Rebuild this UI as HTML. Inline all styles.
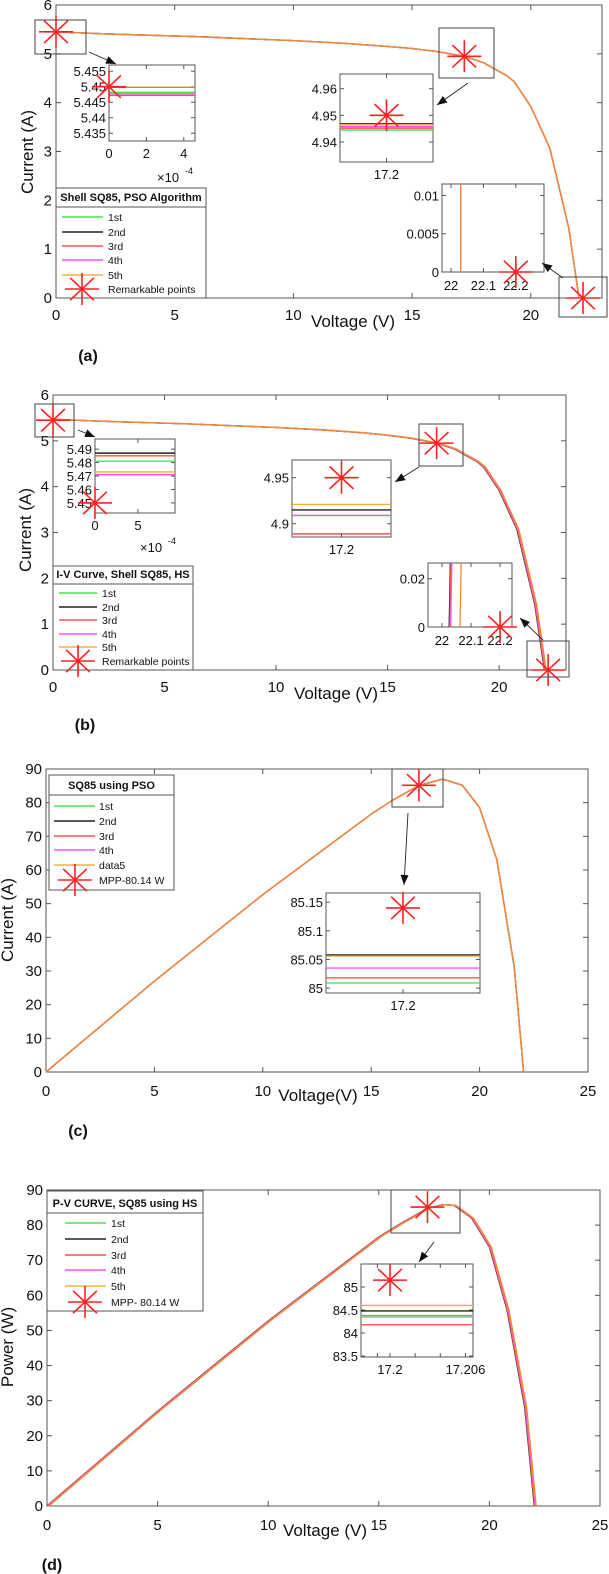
<!DOCTYPE html>
<html><head><meta charset="utf-8">
<style>
html,body{margin:0;padding:0;background:#fff;}
svg{display:block;font-family:"Liberation Sans",Arial,sans-serif;}
</style></head>
<body>
<svg id="fig" width="609" height="1574" viewBox="0 0 609 1574" xmlns="http://www.w3.org/2000/svg"></svg>
<script>
// ---------- data ----------
const seriesNames = ['1st','2nd','3rd','4th','5th'];
const seriesColors = ['#4fe24f','#222222','#ff5050','#ff50ff','#f0b040'];

// (a) I-V, PSO
const aV = [0,2,4,6,8,10,12,14,15,16,17.2,18,19,19.3,20,20.8,21.6,22.03];
const aI = [5.45,5.41,5.38,5.35,5.31,5.27,5.22,5.15,5.11,5.05,4.95,4.82,4.55,4.43,3.92,3.07,1.43,0];
const aStarV = [0,17.2,22.2];
const aStarI = [5.45,4.95,0];
const aIn1Vals = [5.4482,5.4498,5.4472,5.4477,5.4499];
const aIn2Vals = [4.9445,4.9468,4.9452,4.9458,4.9465];
const aIn3Vals = [22.03,22.03,22.03,22.03,22.03];

// (b) I-V, HS
const bV = [0,2,4,6,8,10,12,14,15,16,17.2,18,19,19.3,20,20.8,21.6,22.03];
const bI = [5.47,5.43,5.40,5.37,5.33,5.29,5.24,5.17,5.12,5.06,4.95,4.82,4.55,4.43,3.92,3.07,1.43,0];
const bStarV = [0,17.2,22.2];
const bStarI = [5.45,4.95,0];
const bIn1Vals = [5.481,5.487,5.485,5.471,5.473];
const bIn2Vals = [4.909,4.915,4.889,4.909,4.921];
const bIn3Vals = [22.025,22.025,22.027,22.03,22.062];

// (c) P-V, PSO
const cV = [0,5,10,15,16,17.2,18.3,19.2,20,20.8,21.6,22.03];
const cP = [0,27,52.7,76.6,80.8,85.1,87,85.2,78.5,63,31,0];
const cStarV = [17.2];
const cStarP = [85.14];
const cInVals = [85.009,85.058,85.018,85.035,85.056];

// (d) P-V, HS
const dV = [0,5,10,15,16,17.2,17.9,18.4,19.2,20,20.8,21.6,22.03];
const dP = [0,27,52.7,76.6,80.5,84.8,85.8,85.6,82,73.8,55.8,28,0];
const dStarV = [17.2];
const dStarP = [85.15];
const dInVals = [84.35,84.48,84.18,84.38,84.6];

// ---------- helpers ----------
const NS='http://www.w3.org/2000/svg';
const svg=document.getElementById('fig');
function el(tag,attrs,parent,txt){const e=document.createElementNS(NS,tag);for(const k in attrs)e.setAttribute(k,attrs[k]);if(txt!==undefined)e.textContent=txt;(parent||svg).appendChild(e);return e;}
function grp(name,parent){const g=el('g',{},parent);return g;}
function ln(g,x1,y1,x2,y2,c,w){return el('line',{x1,y1,x2,y2,stroke:c,'stroke-width':w||1},g);}
function tx(g,x,y,s,size,anchor,weight){return el('text',{x,y,'font-size':size,'text-anchor':anchor||'start','font-weight':weight||'normal',fill:'#111'},g,s);}
function star(g,cx,cy,rx,ry){
  const s=grp('star-marker',g);
  ln(s,cx-rx,cy,cx+rx,cy,'#ff2020',1.6);ln(s,cx,cy-ry,cx,cy+ry,'#ff2020',1.6);
  ln(s,cx-rx*0.7,cy-ry*0.7,cx+rx*0.7,cy+ry*0.7,'#ff2020',1.6);ln(s,cx-rx*0.7,cy+ry*0.7,cx+rx*0.7,cy-ry*0.7,'#ff2020',1.6);
  return s;}
function rect(g,x0,y0,x1,y1,c,w){return el('rect',{x:x0,y:y0,width:x1-x0,height:y1-y0,fill:'none',stroke:c||'#444','stroke-width':w||1},g);}
function arrow(g,x1,y1,x2,y2){
  const a=grp('zoom-arrow',g);ln(a,x1,y1,x2,y2,'#222',0.9);
  const ang=Math.atan2(y2-y1,x2-x1),L=10,W=4;
  const bx=x2-L*Math.cos(ang),by=y2-L*Math.sin(ang);
  el('polygon',{points:`${x2},${y2} ${bx-W*Math.sin(ang)},${by+W*Math.cos(ang)} ${bx+W*Math.sin(ang)},${by-W*Math.cos(ang)}`,fill:'#111'},a);}
function scale(d0,d1,p0,p1){return v=>p0+(v-d0)/(d1-d0)*(p1-p0);}

function axes(g,sx,sy,x0,x1,y0,y1,xt,yt,fs,xlabY){
  rect(g,x0,y0,x1,y1,'#555',1);
  const gx=grp('x-axis',g),gy=grp('y-axis',g);
  xt.forEach(v=>{const X=sx(v);ln(gx,X,y1,X,y1-5,'#555');ln(gx,X,y0,X,y0+5,'#555');
    const t=tx(gx,X,xlabY,String(v),fs,'middle');});
  yt.forEach(v=>{const Y=sy(v);ln(gy,x0,Y,x0+5,Y,'#555');ln(gy,x1,Y,x1-5,Y,'#555');
    const t=tx(gy,x0-4,Y+5,String(v),fs,'end');});
}
function curves(g,sx,sy,X,Y,offs){
  seriesColors.forEach((c,i)=>{
    const pts=X.map((v,j)=>sx(v+(offs?offs[i]:0)).toFixed(1)+','+sy(Y[j]).toFixed(1)).join(' ');
    const p=el('polyline',{points:pts,fill:'none',stroke:i===4?'#ec8a3a':c,'stroke-width':i===4?1.5:1.3},g);
    
  });
}
function legend(g,x0,y0,x1,y1,title,titleBottom,rowYs,lx0,lx1,tx0,labels,starX,fs){
  const L=grp('legend',g);
  el('rect',{x:x0,y:y0,width:x1-x0,height:y1-y0,fill:'#fff',stroke:'#555'},L);
  ln(L,x0,titleBottom,x1,titleBottom,'#555');
  const t=tx(L,(x0+x1)/2,titleBottom-6,title,fs+0.5,'middle','bold');
  labels.forEach((lab,i)=>{
    const e=grp('legend-entry',L);const y=rowYs[i];
    if(i<5) ln(e,lx0,y,lx1,y,seriesColors[i],1.6); else star(e,starX,y,17,16);
    tx(e,tx0,y+4,lab,fs);
  });
}
function hInset(g,box,ydom,xdom,yt,xt,xl,vals,starPt,fs){
  const I=grp('inset',g);
  el('rect',{x:box[0],y:box[1],width:box[2]-box[0],height:box[3]-box[1],fill:'#fff',stroke:'#555'},I);
  const sy=scale(ydom[0],ydom[1],box[3],box[1]);const sx=scale(xdom[0],xdom[1],box[0],box[2]);
  yt.forEach(v=>{ln(I,box[0],sy(v),box[0]+4,sy(v),'#555');ln(I,box[2],sy(v),box[2]-4,sy(v),'#555');tx(I,box[0]-3,sy(v)+5,String(v),fs,'end');});
  xt.forEach((v,i)=>{ln(I,sx(v),box[3],sx(v),box[3]-4,'#555');ln(I,sx(v),box[1],sx(v),box[1]+4,'#555');if(xl[i]!=='')tx(I,sx(v),box[3]+17,xl[i],fs,'middle');});
  vals.forEach((v,i)=>{const l=ln(I,box[0],sy(v),box[2],sy(v),seriesColors[i],1.4);});
  if(starPt) star(I,sx(starPt[0]),sy(starPt[1]),17,16);
  return I;
}
function vInset(g,box,xdom,ydom,yt,xt,vals,starPt,fs,slant){
  const I=grp('inset',g);
  el('rect',{x:box[0],y:box[1],width:box[2]-box[0],height:box[3]-box[1],fill:'#fff',stroke:'#555'},I);
  const sx=scale(xdom[0],xdom[1],box[0],box[2]);const sy=scale(ydom[0],ydom[1],box[3],box[1]);
  yt.forEach(v=>{ln(I,box[0],sy(v),box[0]+4,sy(v),'#555');ln(I,box[2],sy(v),box[2]-4,sy(v),'#555');tx(I,box[0]-3,sy(v)+5,String(v),fs,'end');});
  xt.forEach(v=>{ln(I,sx(v),box[3],sx(v),box[3]-4,'#555');ln(I,sx(v),box[1],sx(v),box[1]+4,'#555');tx(I,sx(v),box[3]+18,String(v),fs,'middle');});
  vals.forEach((v,i)=>{const l=ln(I,sx(v-(slant||0)),box[1],sx(v),box[3],i===4?'#ec8a3a':seriesColors[i],1.3);});
  star(I,sx(starPt[0]),sy(starPt[1]),17,16);
}

// ---------- panel (a) ----------
(function(){
  const g=grp('panel-a');const x0=56,x1=602,y0=5,y1=298;
  const sx=scale(0,23,x0,x1),sy=scale(0,6,y1,y0);
  axes(g,sx,sy,x0,x1,y0,y1,[0,5,10,15,20],[0,1,2,3,4,5,6],15,320);
  curves(g,sx,sy,aV,aI);
  aStarV.forEach((v,i)=>star(g,sx(v),sy(aStarI[i]),17,16));
  rect(g,35,20,86,54,'#444');rect(g,439,28,494,78,'#444');rect(g,559,277,607,317,'#444');
  hInset(g,[109,65,195,141],[5.4325,5.457],[0,4.6],[5.455,5.45,5.445,5.44,5.435],[0,2,4],['0','2','4'],aIn1Vals,[0,5.45],13);
  tx(g,157,182,'×10',13);tx(g,185,174,'-4',9);
  hInset(g,[340,74,433,162],[4.9325,4.9655],[17.17,17.23],[4.96,4.95,4.94],[17.2],['17.2'],aIn2Vals,[17.2,4.95],13);
  vInset(g,[442,184,544,272],[21.972,22.287],[0,0.0115],[0.01,0.005,0],[22,22.1,22.2],aIn3Vals,[22.2,0],13,0);
  arrow(g,89,52,116,64);arrow(g,468,83,437,105);arrow(g,563,278,542,263);
  legend(g,56,188,206,298,'Shell SQ85, PSO Algorithm',207,[217,232,246,260,275,289],62,103,108,['1st','2nd','3rd','4th','5th','Remarkable points'],82,10.5);
  const yl=tx(g,0,0,'Current (A)',17,'middle');yl.setAttribute('transform','translate(33,152) rotate(-90)');
  const xl=tx(g,353,327,'Voltage (V)',17,'middle');
  const pl=tx(g,88,361,'(a)',16,'middle','bold');
})();

// ---------- panel (b) ----------
(function(){
  const g=grp('panel-b');const x0=53,x1=566,y0=395,y1=670;
  const sx=scale(0,23,x0,x1),sy=scale(0,6,y1,y0);
  axes(g,sx,sy,x0,x1,y0,y1,[0,5,10,15,20],[0,1,2,3,4,5,6],15,692);
  curves(g,sx,sy,bV,bI,[0,0,0.02,0.05,0.08]);
  bStarV.forEach((v,i)=>star(g,sx(v),sy(bStarI[i]),17,16));
  rect(g,35,404,74,437,'#444');rect(g,419,424,463,466,'#444');rect(g,527,641,569,677,'#444');
  hInset(g,[95,439,175,513],[5.4425,5.4975],[0,9.3],[5.49,5.48,5.47,5.46,5.45],[0,5],['0','5'],bIn1Vals,[0,5.45],13);
  tx(g,140,552,'×10',13);tx(g,168,544,'-4',9);
  hInset(g,[292,460,391,537],[4.8856,4.9692],[17.17,17.23],[4.95,4.9],[17.2],['17.2'],bIn2Vals,[17.2,4.95],13);
  vInset(g,[428,563,512,627],[21.952,22.241],[0,0.0265],[0.02,0],[22,22.1,22.2],bIn3Vals,[22.2,0],13,-0.004);
  arrow(g,78,430,95,437);arrow(g,419,467,395,482);arrow(g,543,640,520,618);
  legend(g,53,566,193,670,'I-V Curve, Shell SQ85, HS',584,[593,607,620,634,647,661],59,97,102,['1st','2nd','3rd','4th','5th','Remarkable points'],78,10.5);
  const yl=tx(g,0,0,'Current (A)',17,'middle');yl.setAttribute('transform','translate(31,530) rotate(-90)');
  const xl=tx(g,336,699,'Voltage (V)',17,'middle');
  const pl=tx(g,85,730,'(b)',16,'middle','bold');
})();

// ---------- panel (c) ----------
(function(){
  const g=grp('panel-c');const x0=46,x1=588,y0=769,y1=1072;
  const sx=scale(0,25,x0,x1),sy=scale(0,90,y1,y0);
  axes(g,sx,sy,x0,x1,y0,y1,[0,5,10,15,20,25],[0,10,20,30,40,50,60,70,80,90],15,1096);
  curves(g,sx,sy,cV,cP);
  cStarV.forEach((v,i)=>star(g,sx(v),sy(cStarP[i]),17,16));
  rect(g,392,769,443,807,'#444');
  hInset(g,[326,893,480,993],[84.9915,85.166],[17.17,17.23],[85.15,85.1,85.05,85],[17.2],['17.2'],cInVals,[17.2,85.14],13);
  arrow(g,408,813,404,885);
  legend(g,49,775,174,890,'SQ85 using PSO',795,[806,821,836,850,865,880],54,95,99,['1st','2nd','3rd','4th','data5','MPP-80.14 W'],75,10.5);
  const yl=tx(g,0,0,'Current (A)',17,'middle');yl.setAttribute('transform','translate(13,920) rotate(-90)');
  const xl=tx(g,318,1101,'Voltage(V)',17,'middle');
  const pl=tx(g,78,1136,'(c)',16,'middle','bold');
})();

// ---------- panel (d) ----------
(function(){
  const g=grp('panel-d');const x0=47,x1=600,y0=1190,y1=1506;
  const sx=scale(0,25,x0,x1),sy=scale(0,90,y1,y0);
  axes(g,sx,sy,x0,x1,y0,y1,[0,5,10,15,20,25],[0,10,20,30,40,50,60,70,80,90],15,1530);
  curves(g,sx,sy,dV,dP,[0,0,0.02,0.05,0.08]);
  dStarV.forEach((v,i)=>star(g,sx(v),sy(dStarP[i]),17,16));
  rect(g,391,1190,460,1233,'#444');
  hInset(g,[361,1264,473,1357],[83.48,85.5],[17.1977,17.2066],[85,84.5,84,83.5],[17.199,17.2,17.202,17.204,17.206],['','17.2','','','17.206'],dInVals,[17.2,85.15],13);
  arrow(g,434,1242,419,1262);
  legend(g,47,1191,203,1311,'P-V CURVE, SQ85 using HS',1213,[1223,1239,1255,1270,1286,1302],65,106,111,['1st','2nd','3rd','4th','5th','MPP- 80.14 W'],85,10.5);
  const yl=tx(g,0,0,'Power (W)',17,'middle');yl.setAttribute('transform','translate(13,1347) rotate(-90)');
  const xl=tx(g,325,1536,'Voltage (V)',17,'middle');
  const pl=tx(g,52,1570,'(d)',16,'middle','bold');
})();
</script>
</body></html>
